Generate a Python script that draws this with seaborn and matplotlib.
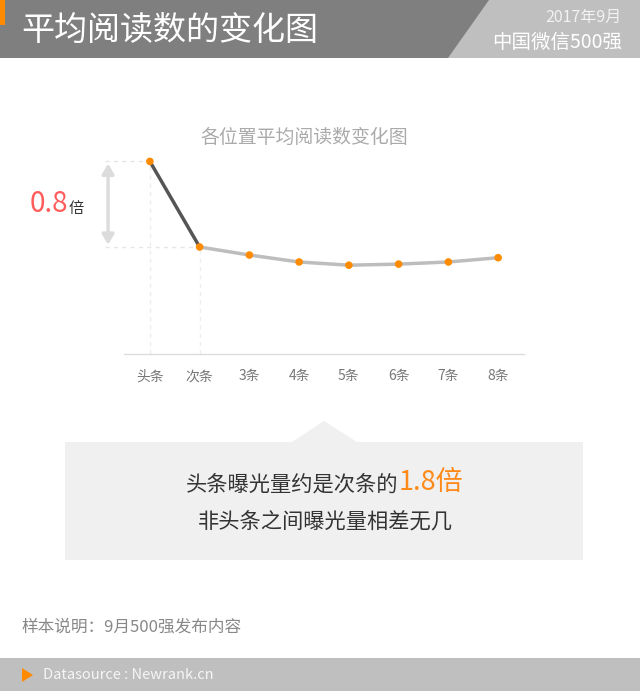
import matplotlib
matplotlib.use("Agg")
import matplotlib.pyplot as plt
from matplotlib.patches import Polygon, Rectangle, FancyArrowPatch
import numpy as np
import pandas as pd
import seaborn as sns

# ---- data ----
categories = ["头条", "次条", "3条", "4条", "5条", "6条", "7条", "8条"]
values = [1.80, 1.00, 0.925, 0.86, 0.83, 0.84, 0.86, 0.90]
chart_title = "各位置平均阅读数变化图"
header_title = "平均阅读数的变化图"
header_date = "2017年9月"
header_sub = "中国微信500强"
ratio_label = "0.8"
note_line1 = "头条曝光量约是次条的"
note_highlight = "1.8倍"
note_line2 = "非头条之间曝光量相差无几"
sample_note = "样本说明：9月500强发布内容"
source_note = "Datasource : Newrank.cn"

sns.set_theme(style="white")
plt.rcParams['font.family'] = ['Noto Sans CJK SC', 'DejaVu Sans']

W, H = 640, 691
fig = plt.figure(figsize=(W / 100, H / 100), dpi=100)

# background/decor axes in pixel coordinates
bg = fig.add_axes([0, 0, 1, 1])
bg.set_xlim(0, W)
bg.set_ylim(H, 0)
bg.axis("off")

# header
bg.add_patch(Rectangle((0, 0), W, 58, color="#bfbfbf", lw=0))
bg.add_patch(Polygon([(0, 0), (489, 0), (448, 58), (0, 58)], closed=True, color="#7f7f7f", lw=0))
bg.add_patch(Rectangle((0, 0), 5, 25, color="#ff8a00", lw=0))
bg.text(21, 30, header_title, color="white", fontsize=23.8, va="center", ha="left")
bg.text(622, 17, header_date, color="#f2f2f2", fontsize=11.5, va="center", ha="right")
bg.text(622, 42, header_sub, color="white", fontsize=14, va="center", ha="right")

# callout box
bg.add_patch(Rectangle((65, 442), 518, 118, color="#f0f0f0", lw=0))
bg.add_patch(Polygon([(292, 442), (324, 421), (357, 442)], closed=True, color="#f0f0f0", lw=0))
bg.text(398, 485, note_line1, color="#333333", fontsize=15.3, va="center", ha="right")
bg.text(399, 482, note_highlight, color="#ff8a1a", fontsize=19.5, va="center", ha="left")
bg.text(325, 521, note_line2, color="#333333", fontsize=15.3, va="center", ha="center")

# ratio annotation text
bg.text(68, 204, ratio_label, color="#ff5c5c", fontsize=20, va="center", ha="right")
bg.text(69, 208, "倍", color="#333333", fontsize=11, va="center", ha="left")

# footer
bg.text(22, 627, sample_note, color="#888888", fontsize=12, va="center", ha="left")
bg.add_patch(Rectangle((0, 658), W, H - 658, color="#bfbfbf", lw=0))
bg.add_patch(Polygon([(22, 668), (33, 675), (22, 682)], closed=True, color="#ff8a00", lw=0))
bg.text(43, 675, source_note, color="#f5f5f5", fontsize=10.5, va="center", ha="left")

# chart axes
ax_left, ax_right, ax_bottom_px, ax_top_px = 124, 524, 354, 140
ax = fig.add_axes([ax_left / W, (H - ax_bottom_px) / H,
                   (ax_right - ax_left) / W, (ax_bottom_px - ax_top_px) / H])
ax.set_facecolor("none")

x = np.arange(len(categories))
df = pd.DataFrame({"pos": x, "value": values, "cat": categories})

sns.lineplot(data=df.iloc[1:], x="pos", y="value", ax=ax, color="#bdbdbd", lw=2.5, zorder=2)
sns.lineplot(data=df.iloc[:2], x="pos", y="value", ax=ax, color="#555555", lw=2.5, zorder=3)
sns.scatterplot(data=df, x="pos", y="value", ax=ax, color="#ff8c00", s=30, edgecolor="none", zorder=4)

ax.set_xlim(-0.52, 7.52)
ax.set_ylim(0, 2.0)

# guide lines
ax.plot([-0.9, x[0]], [values[0], values[0]], ls=(0, (3, 3)), color="#e6e6e6", lw=1, clip_on=False, zorder=1)
ax.plot([-0.9, x[1]], [values[1], values[1]], ls=(0, (3, 3)), color="#e6e6e6", lw=1, clip_on=False, zorder=1)
ax.plot([x[0], x[0]], [0, values[0]], ls=(0, (3, 3)), color="#eeeeee", lw=1, zorder=1)
ax.plot([x[1], x[1]], [0, values[1]], ls=(0, (3, 3)), color="#eeeeee", lw=1, zorder=1)

arrow = FancyArrowPatch((-0.84, values[1] + 0.02), (-0.84, values[0] - 0.02),
                        arrowstyle="<|-|>,head_length=6,head_width=3.5", color="#dcdcdc",
                        lw=2.5, mutation_scale=1, clip_on=False, shrinkA=0, shrinkB=0)
ax.add_patch(arrow)

ax.set_xticks(x)
ax.set_xticklabels(categories, color="#777777", fontsize=10)
ax.tick_params(axis="x", length=0, pad=11)
ax.set_yticks([])
ax.set_xlabel("")
ax.set_ylabel("")
for s in ["top", "left", "right"]:
    ax.spines[s].set_visible(False)
ax.spines["bottom"].set_color("#dddddd")
ax.spines["bottom"].set_linewidth(1)

ax.set_title(chart_title, color="#aaaaaa", fontsize=13.6, pad=-2)
ax.title.set_position((0.45, 1.0))

fig.savefig("out.png", dpi=100)
